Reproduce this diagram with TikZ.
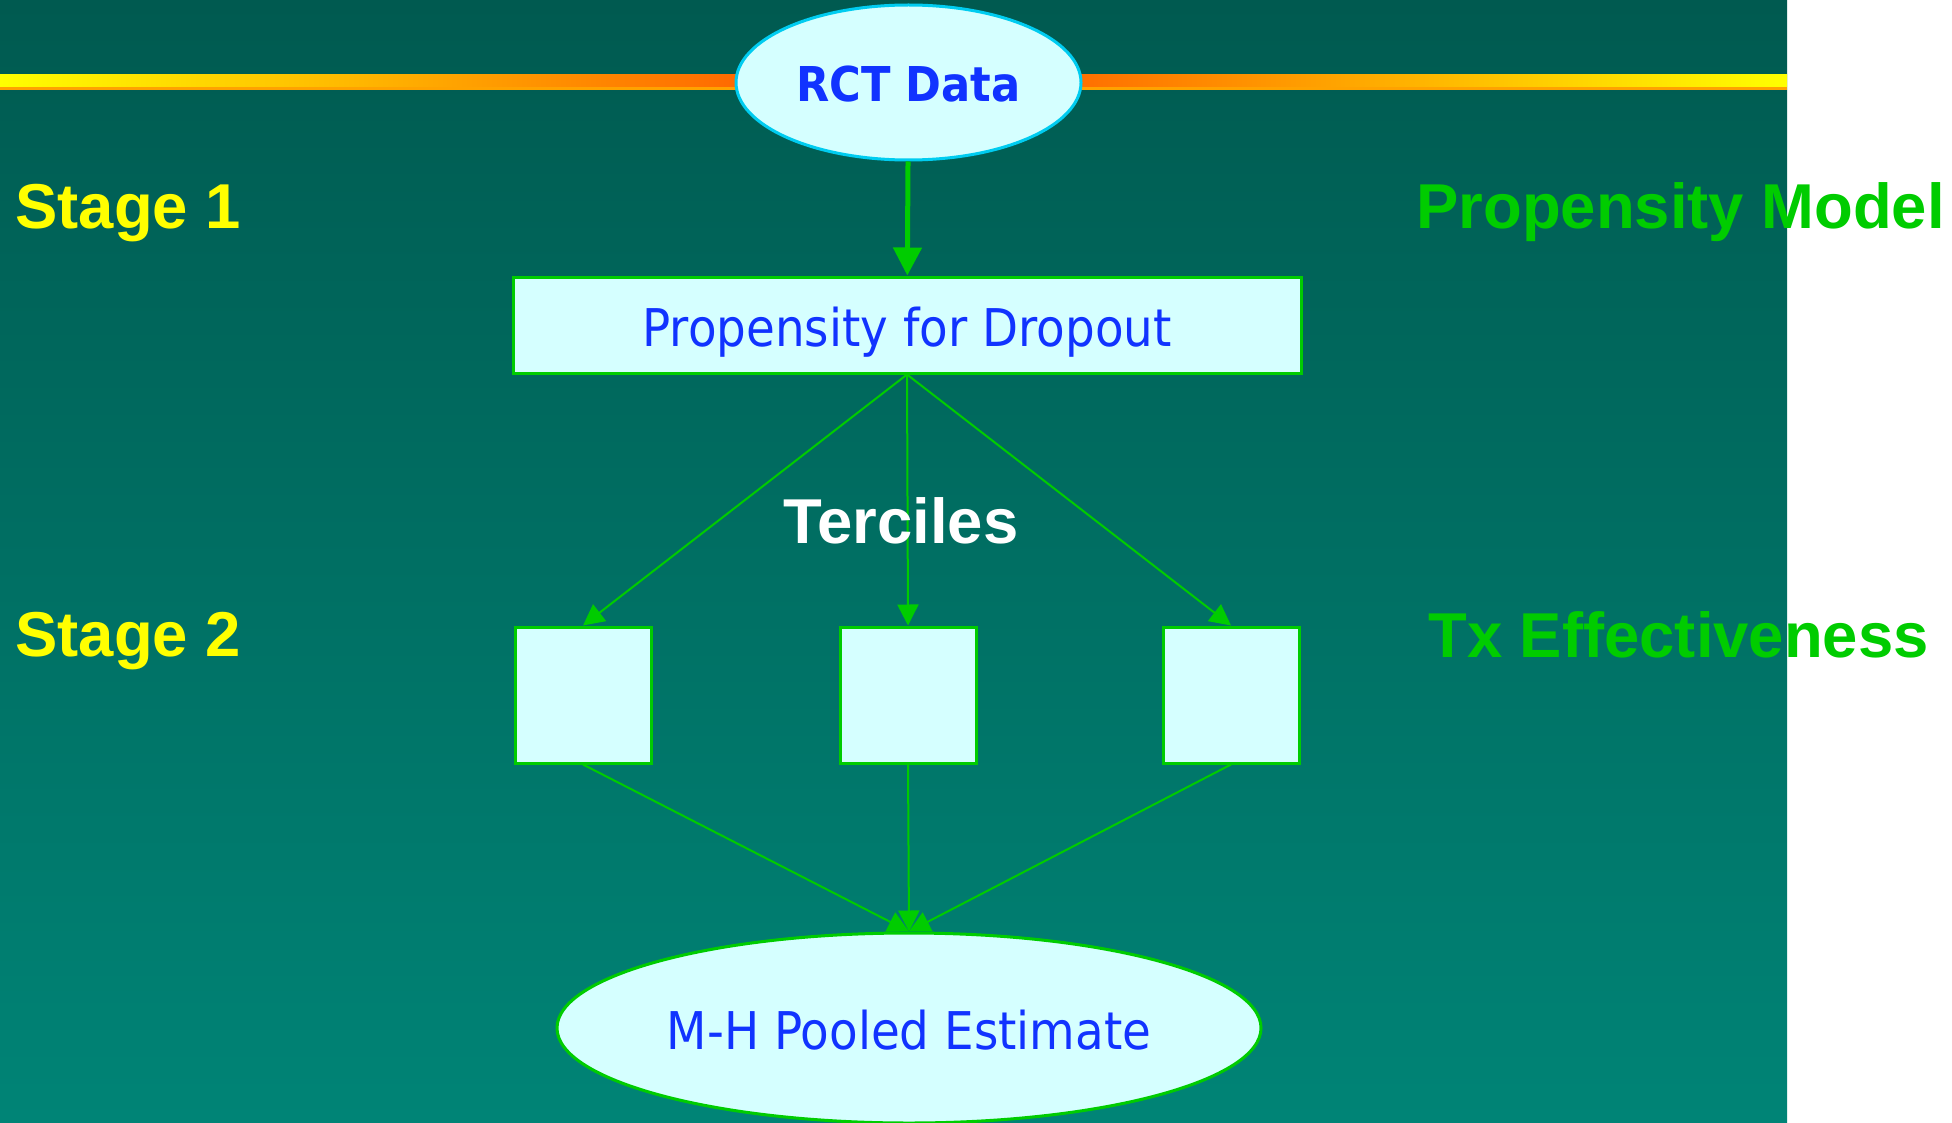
\documentclass[tikz,border=0pt]{standalone}
\usepackage{fontspec}
\setmainfont{Liberation Sans}
\newfontfamily\tahoma[FakeStretch=0.9]{DejaVu Sans}
\usetikzlibrary{positioning,arrows.meta,shapes.geometric}
\definecolor{tealtop}{HTML}{005A50}
\definecolor{tealbot}{HTML}{008476}
\definecolor{lineyellow}{HTML}{FFFF00}
\definecolor{linered}{HTML}{FF4A00}
\definecolor{lineorange}{HTML}{FFA200}
\definecolor{cellfill}{HTML}{D5FFFF}
\definecolor{txtblue}{HTML}{1133FF}
\definecolor{flowgreen}{HTML}{00CC00}
\definecolor{rctcyan}{HTML}{00CCF0}
\definecolor{stageyellow}{HTML}{FFFF00}

\begin{document}
\begin{tikzpicture}[x=0.5pt, y=-0.5pt,
    lbl/.style={inner sep=0pt, anchor=base west,
                font=\bfseries\fontsize{31.7pt}{36pt}\selectfont},
    stg/.style={lbl, text=stageyellow},
    mdl/.style={lbl, text=flowgreen},
    shp/.style={draw=flowgreen, line width=1.5pt, fill=cellfill, inner sep=0pt,
                text height=21pt, text depth=0pt,
                text=txtblue, font=\tahoma\fontsize{26pt}{30pt}\selectfont},
    oval/.style={shp, ellipse},
    box/.style={shp, rectangle},
    cell/.style={box, minimum width=68pt, minimum height=68pt},
    arr/.style={-{Triangle[length=14pt,width=14pt]}, line width=2.5pt, flowgreen},
    tarr/.style={-{Triangle[length=10.5pt,width=10.5pt]}, line width=1pt, flowgreen}
  ]
  \useasboundingbox (0,0) rectangle (1952,1123);
  % Slide background and the rule across the top.
  \fill[white] (0,0) rectangle (1952,1123);
  \shade[top color=tealtop, bottom color=tealbot] (0,0) rectangle (1787,1123);
  \shade[left color=lineyellow, right color=linered] (0,75) rectangle (894,87);
  \shade[left color=linered, right color=lineyellow] (893,75) rectangle (1787,87);
  \fill[lineorange] (0,87) rectangle (1787,90);

  % Stage 1: propensity model.
  \node[oval, draw=rctcyan, minimum width=172.5pt, minimum height=77.5pt, text height=19.5pt,
        font=\tahoma\bfseries\fontsize{24pt}{28pt}\selectfont] (rct) at (908.5,82.5) {RCT Data};
  \node[box, minimum width=394pt, minimum height=48pt] (prop) at (907,325) {Propensity for Dropout};

  % Stage 2: one cell per tercile, then pooled.
  \node[cell] (t1) at (583,695) {};
  \node[cell] (t2) at (908,695) {};
  \node[cell] (t3) at (1231,695) {};
  \node[oval, minimum width=352pt, minimum height=95pt] (mh) at (909,1028) {M-H Pooled Estimate};

  \node[stg] (st1) at (15,228) {Stage 1};
  \node[stg] (st2) at (15,656) {Stage 2};
  \node[mdl] (pm) at (1416,228) {Propensity Model};
  \node[mdl] (tx) at (1428,657) {Tx Effectiveness};

  \draw[arr] (rct) -- (prop);
  \draw[tarr] (prop.south) -- (t1.north);
  \draw[tarr] (prop.south) -- (t2.north);
  \draw[tarr] (prop.south) -- (t3.north);
  \draw[tarr] (t1.south) -- (mh.north);
  \draw[tarr] (t2.south) -- (mh.north);
  \draw[tarr] (t3.south) -- (mh.north);

  \node[lbl, anchor=base, text=white] (terc) at (901,543) {Terciles};
\end{tikzpicture}
\end{document}
